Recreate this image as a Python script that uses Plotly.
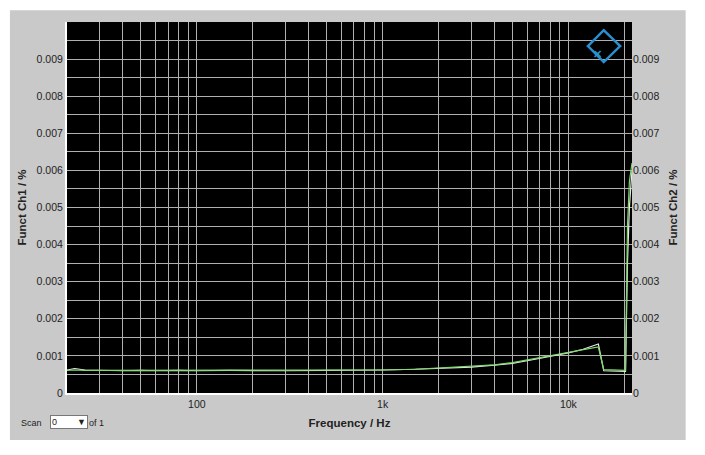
import plotly.graph_objects as go
import numpy as np

freq = [20, 22, 25, 30, 40, 50, 60, 80, 100, 150, 200, 300, 500, 700, 1000, 1500, 2000, 3000, 4000, 5000, 6000, 8000, 10000, 12000, 14500, 15500, 18000, 20300, 20800, 21300, 22000]
ch1 = [0.00062, 0.00066, 0.00062, 0.00061, 0.00060, 0.00061, 0.00060, 0.00061, 0.00060, 0.00061, 0.00060, 0.00060, 0.00061, 0.00061, 0.00062, 0.00064, 0.00066, 0.00070, 0.00075, 0.00080, 0.00087, 0.00098, 0.00108, 0.00118, 0.00132, 0.00060, 0.00060, 0.00058, 0.0035, 0.0050, 0.0060]
ch2 = [0.00061, 0.00062, 0.00061, 0.00061, 0.00061, 0.00061, 0.00061, 0.00061, 0.00061, 0.00061, 0.00061, 0.00061, 0.00061, 0.00061, 0.00062, 0.00064, 0.00067, 0.00072, 0.00076, 0.00082, 0.00089, 0.00100, 0.00110, 0.00116, 0.00124, 0.00063, 0.00062, 0.00061, 0.0045, 0.0057, 0.0062]
yticks = [0, 0.001, 0.002, 0.003, 0.004, 0.005, 0.006, 0.007, 0.008, 0.009]
ylabels = ["0"] + [f"{v:.3f}" for v in yticks[1:]]
xtickvals = [100, 1000, 10000]
xticklabels = ["100", "1k", "10k"]
minor_x = [m * 10**e for e in (1, 2, 3, 4) for m in range(2, 10) if 20 <= m * 10**e <= 22000 and m * 10**e not in (100, 1000, 10000)]
minor_y = [0.0005 + 0.001 * i for i in range(10)]

fig = go.Figure()
fig.add_trace(go.Scatter(x=freq, y=ch1, mode="lines", line=dict(color="#e8e8e8", width=1.2), showlegend=False))
fig.add_trace(go.Scatter(x=freq, y=ch2, mode="lines", line=dict(color="#7ddc6a", width=1.2), yaxis="y2", showlegend=False))

grid = "#b0b0b0"
W = "white"
fig.update_layout(
    width=697, height=447,
    margin=dict(l=59, r=73, t=14, b=62),
    paper_bgcolor="#c9c9c9", plot_bgcolor="black",
    font=dict(family="Liberation Sans, Arial", size=10.5, color="#222"),
    xaxis=dict(type="log", range=[np.log10(20), np.log10(22000)], tickvals=xtickvals, ticktext=xticklabels,
               showgrid=True, gridcolor=grid, gridwidth=1, zeroline=False, ticks="",
               minor=dict(tickvals=minor_x, showgrid=True, gridcolor=grid, gridwidth=1),
               title=dict(text="<b>Frequency / Hz</b>", font=dict(size=11.5), standoff=10),
               linecolor="white", linewidth=2),
    yaxis=dict(range=[0, 0.01], tickvals=yticks, ticktext=ylabels, showgrid=True, gridcolor=grid,
               zeroline=False, ticks="", minor=dict(tickvals=minor_y, showgrid=True, gridcolor=grid),
               title=dict(text="<b>Funct Ch1 / %</b>", font=dict(size=11.5), standoff=8),
               linecolor="white", linewidth=2),
    yaxis2=dict(range=[0, 0.01], tickvals=yticks, ticktext=ylabels, overlaying="y", side="right",
                showgrid=False, zeroline=False, ticks="",
                title=dict(text="<b>Funct Ch2 / %</b>", font=dict(size=11.5), standoff=10)),
    shapes=[
        dict(type="path", xref="paper", yref="paper",
             path="M 0.922 0.935 L 0.950 0.978 L 0.979 0.935 L 0.950 0.892 Z",
             line=dict(color="#2a8fd0", width=2.5), fillcolor="rgba(0,0,0,0)"),
        dict(type="rect", xref="paper", yref="paper", x0=-0.2, x1=-0.101, y0=-0.3, y1=1.2, fillcolor=W, line=dict(width=0)),
        dict(type="rect", xref="paper", yref="paper", x0=1.095, x1=1.3, y0=-0.3, y1=1.2, fillcolor=W, line=dict(width=0)),
        dict(type="rect", xref="paper", yref="paper", x0=-0.2, x1=1.3, y0=1.032, y1=1.2, fillcolor=W, line=dict(width=0)),
        dict(type="rect", xref="paper", yref="paper", x0=-0.2, x1=1.3, y0=-0.3, y1=-0.127, fillcolor=W, line=dict(width=0)),
    ],
)
fig.add_annotation(text="<b>✕</b>", x=0.950, y=0.935, xref="paper", yref="paper", showarrow=False,
                   font=dict(color="#2a8fd0", size=11))
fig.add_annotation(text="Scan", x=-0.085, y=-0.1, xref="paper", yref="paper", xanchor="left", showarrow=False, font=dict(size=9))
fig.add_annotation(text="0&nbsp;&nbsp;&nbsp;&nbsp;&nbsp;&nbsp;&nbsp;&nbsp;▼", x=-0.03, y=-0.097, xref="paper", yref="paper", xanchor="left",
                   showarrow=False, bgcolor="white", bordercolor="#777", borderwidth=1, font=dict(size=9))
fig.add_annotation(text="of 1", x=0.035, y=-0.1, xref="paper", yref="paper", xanchor="left", showarrow=False, font=dict(size=9))
fig.write_html("out.html")
